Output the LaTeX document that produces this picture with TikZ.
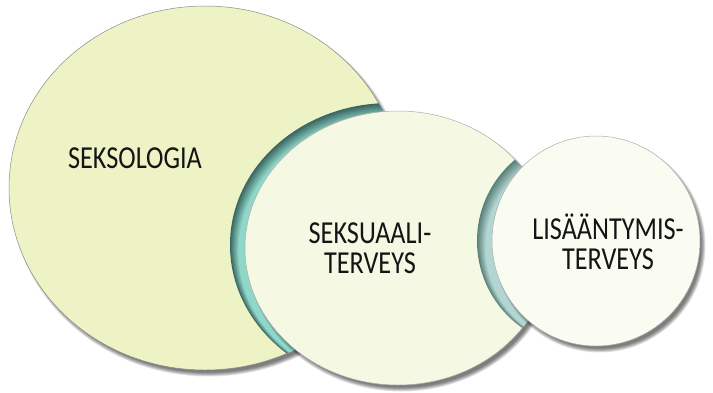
\documentclass[tikz,border=0pt]{standalone}
\usepackage{fontspec}
\setmainfont{Carlito}[FakeStretch=0.82]
\definecolor{bigfill}{HTML}{EEF3C6}
\definecolor{midfill}{HTML}{F5F8E3}
\definecolor{rightfill}{HTML}{FAFBF1}
\definecolor{tealL}{HTML}{8FD7C9}
\definecolor{tealD}{HTML}{3A6662}
\definecolor{grayL}{HTML}{B2D6D1}
\definecolor{grayD}{HTML}{5A807C}
\definecolor{edgegray}{HTML}{8A8A8A}
\newcommand\softshadow[4]{%
  \foreach \k in {0,...,5}{%
    \fill[black,opacity=0.11] (#1+3.5,#2+4.5) ellipse [x radius=#3+2-0.8*\k, y radius=#4+2-0.8*\k];}}
\newcommand\rimlayers[6]{% cx cy rx ry darkcolor lightcolor
  \foreach \i in {0,...,8}{%
    \pgfmathsetmacro\mixv{100-\i*12.5}%
    \fill[#5!\mixv!#6] (#1+0.2*\i,#2+0.8*\i) ellipse [x radius=#3-0.85*\i, y radius=#4-0.85*\i];}}
\tikzset{
  lbl/.style={font=\fontsize{32}{30}\selectfont, text=black!92, align=center, inner sep=0pt},
  outline/.style={draw=edgegray, line width=0.5pt}
}
\begin{document}
\begin{tikzpicture}[x=1pt,y=-1pt]
\useasboundingbox (0,0) rectangle (713,392);
% big ellipse
\softshadow{205}{188}{196}{182}
\fill[bigfill] (205,188) ellipse [x radius=196, y radius=182];
\draw[outline] (205,188) ellipse [x radius=196, y radius=182];
% teal rim behind middle ellipse
\begin{scope}
  \clip (205,188) ellipse [x radius=196, y radius=182];
  \rimlayers{390}{245}{160}{142}{tealD}{tealL}
\end{scope}
% middle ellipse
\softshadow{398}{248}{153}{137}
\fill[midfill] (398,248) ellipse [x radius=153, y radius=137];
\draw[outline, draw=edgegray!70] (398,248) ellipse [x radius=153, y radius=137];
% gray-teal rim behind right circle
\begin{scope}
  \clip (398,248) ellipse [x radius=153, y radius=137];
  \rimlayers{583}{241}{106}{106}{grayD}{grayL}
\end{scope}
% right circle
\softshadow{596}{241}{104}{105}
\fill[rightfill] (596,241) ellipse [x radius=104, y radius=105];
\draw[outline, draw=edgegray!70] (596,241) ellipse [x radius=104, y radius=105];
% labels
\node[lbl] (seksologia) at (135,158.5) {SEKSOLOGIA};
\node[lbl] (seksuaali) at (370,248.5) {SEKSUAALI-\\TERVEYS};
\node[lbl] (lisaantymis) at (608,242) {LISÄÄNTYMIS-\\TERVEYS};
\end{tikzpicture}
\end{document}
